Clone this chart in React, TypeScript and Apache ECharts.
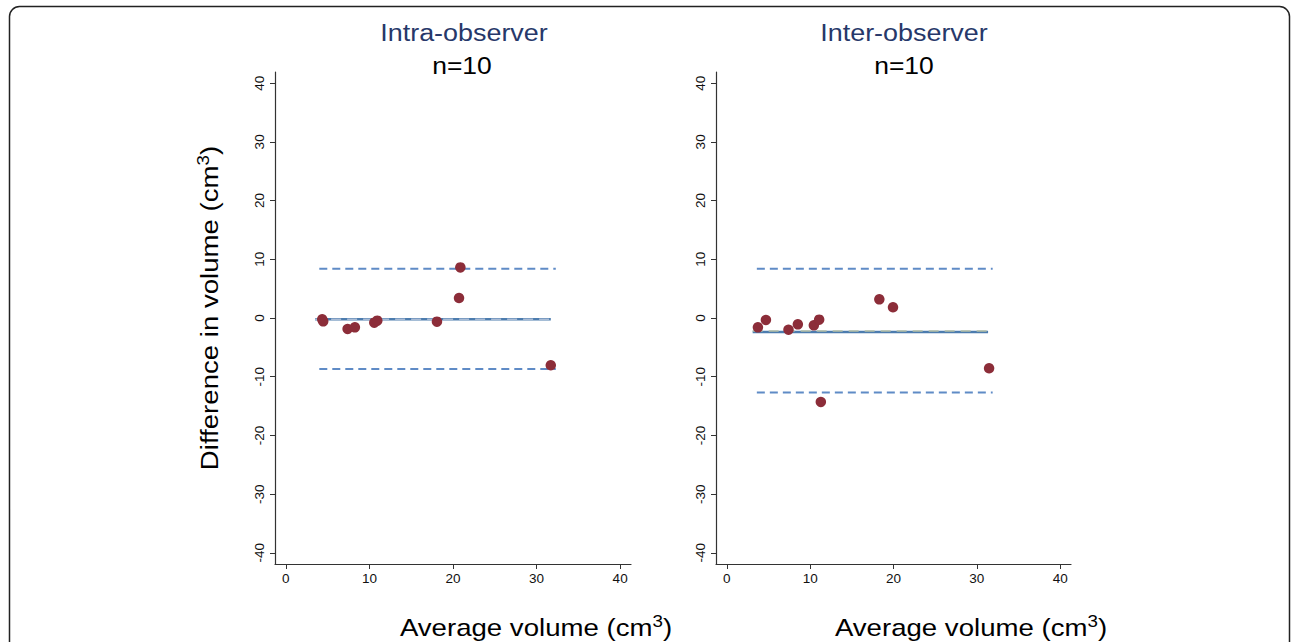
import React, { useEffect, useRef } from "react";
import * as echarts from "echarts";

// Intra-observer panel (average volume vs difference in volume, cm³)
const intraAvg = [4.35, 4.47, 7.39, 8.26, 10.58, 10.94, 18.08, 20.72, 20.88, 31.7];
const intraDiff = [-0.22, -0.57, -1.87, -1.59, -0.79, -0.45, -0.62, 3.4, 8.62, -8.06];
const intraMean = -0.22;
const intraUpper = 8.4;
const intraLower = -8.69;
const intraMeanRange = [3.5, 31.7];
const intraLoaRange = [4.0, 32.3];

// Inter-observer panel
const interAvg = [3.73, 4.69, 7.4, 8.52, 10.44, 11.08, 11.28, 18.3, 19.94, 31.47];
const interDiff = [-1.59, -0.34, -1.99, -1.08, -1.25, -0.28, -14.3, 3.18, 1.82, -8.57];
const interMean = -2.38;
const interUpper = 8.39;
const interLower = -12.71;
const interMeanRange = [3.1, 31.35];
const interLoaRange = [3.6, 31.9];

const xTicks = [0, 10, 20, 30, 40];
const yTicks = [-40, -30, -20, -10, 0, 10, 20, 30, 40];

const panelTitles = ["Intra-observer", "Inter-observer"];
const panelSubtitle = "n=10";
const xTitleParts = ["Average volume (cm", "3", ")"];
const yTitleParts = ["Difference in volume (cm", "3", ")"];

const DOT = "#8c2d39";
const LOA = "#5f8bc6";
const MEAN = "#4c7cae";
const AXIS = "#333333";
const FONT = "'Liberation Sans', Arial, Helvetica, sans-serif";

function hLine(xs: number[], y: number, idx: number, color: string, width: number, type: any, z = 2) {
  return {
    type: "line",
    xAxisIndex: idx,
    yAxisIndex: idx,
    data: [[xs[0], y], [xs[1], y]],
    symbol: "none",
    lineStyle: { color, width, type },
    silent: true,
    z,
  };
}

function scatter(xs: number[], ys: number[], idx: number) {
  return {
    type: "scatter",
    xAxisIndex: idx,
    yAxisIndex: idx,
    data: xs.map((x, i) => [x, ys[i]]),
    symbolSize: 10.5,
    itemStyle: { color: DOT, opacity: 1 },
    z: 5,
  };
}

function xAxis(idx: number) {
  return {
    type: "value",
    gridIndex: idx,
    min: -1.3,
    max: 41.3,
    splitLine: { show: false },
    axisLine: { show: true, onZero: false, lineStyle: { color: AXIS, width: 1.2 } },
    axisTick: { show: true, length: 5, customValues: xTicks, lineStyle: { color: AXIS } },
    axisLabel: { customValues: xTicks, margin: 7, fontSize: 13.5, color: "#111", fontFamily: FONT },
  };
}

function yAxis(idx: number) {
  return {
    type: "value",
    gridIndex: idx,
    min: -41.9,
    max: 41.9,
    splitLine: { show: false },
    axisLine: { show: true, onZero: false, lineStyle: { color: AXIS, width: 1.2 } },
    axisTick: { show: true, length: 5, customValues: yTicks, lineStyle: { color: AXIS } },
    axisLabel: {
      customValues: yTicks,
      rotate: 90,
      margin: 9,
      fontSize: 13.5,
      color: "#111",
      fontFamily: FONT,
    },
  };
}

function txt(text: string, x: number, y: number, size: number, color: string, scaleX: number, rotation = 0) {
  return {
    type: "text",
    x,
    y,
    rotation,
    scaleX,
    style: {
      text,
      x: 0,
      y: 0,
      fill: color,
      font: `${size}px ${FONT}`,
      textAlign: "center",
      textVerticalAlign: "middle",
    },
    z: 10,
  };
}

function supTxt(parts: string[], x: number, y: number, size: number, scaleX: number, rotation = 0) {
  return {
    type: "text",
    x,
    y,
    rotation,
    scaleX,
    style: {
      text: `{a|${parts[0]}}{s|${parts[1]}}{a|${parts[2]}}`,
      x: 0,
      y: 0,
      fill: "#000",
      textAlign: "center",
      textVerticalAlign: "middle",
      rich: {
        a: { fontSize: size, fontFamily: FONT, fill: "#000", lineHeight: size * 1.2 },
        s: {
          fontSize: size * 0.68,
          fontFamily: FONT,
          fill: "#000",
          lineHeight: size * 1.2,
          verticalAlign: "top",
          padding: [0, 0, size * 0.42, 0],
        },
      },
    },
    z: 10,
  };
}

export default function App() {
  const ref = useRef<HTMLDivElement>(null);
  useEffect(() => {
    if (!ref.current) return;
    const chart = echarts.init(ref.current, null, { renderer: "svg" });
    const option: any = {
      animation: false,
      backgroundColor: "#ffffff",
      grid: [
        { left: 275, top: 72, width: 356, height: 492 },
        { left: 716, top: 72, width: 355, height: 492 },
      ],
      xAxis: [xAxis(0), xAxis(1)],
      yAxis: [yAxis(0), yAxis(1)],
      series: [
        hLine(intraLoaRange, intraUpper, 0, LOA, 2, [8, 5]),
        hLine(intraLoaRange, intraLower, 0, LOA, 2, [8, 5]),
        hLine(intraMeanRange, intraMean, 0, MEAN, 2.5, "solid"),
        hLine(intraMeanRange, intraMean, 0, "#a9bcd6", 1.5, [10, 6], 3),
        scatter(intraAvg, intraDiff, 0),
        hLine(interLoaRange, interUpper, 1, LOA, 2, [8, 5]),
        hLine(interLoaRange, interLower, 1, LOA, 2, [8, 5]),
        hLine(interMeanRange, interMean, 1, MEAN, 2.5, "solid"),
        hLine(interMeanRange, interMean + 0.15, 1, "#b3bfa6", 1.5, [10, 6], 3),
        scatter(interAvg, interDiff, 1),
      ],
      graphic: [
        {
          type: "rect",
          shape: { x: 9.5, y: 6.5, width: 1280, height: 700, r: 10 },
          style: { fill: "none", stroke: "#222", lineWidth: 1.5 },
          z: 0,
        },
        txt(panelTitles[0], 464, 33, 23, "#27386a", 1.17),
        txt(panelSubtitle, 462, 66, 23, "#000", 1.15),
        txt(panelTitles[1], 904, 33, 23, "#27386a", 1.17),
        txt(panelSubtitle, 904, 66, 23, "#000", 1.15),
        supTxt(yTitleParts, 210, 308, 24, 1.15, Math.PI / 2),
        supTxt(xTitleParts, 536, 628, 24, 1.15),
        supTxt(xTitleParts, 971, 628, 24, 1.15),
      ],
    };
    chart.setOption(option);
    return () => chart.dispose();
  }, []);
  return (
    <div
      ref={ref}
      style={{ position: "fixed", left: 0, top: 0, width: 1292, height: 642, background: "#fff" }}
    />
  );
}
